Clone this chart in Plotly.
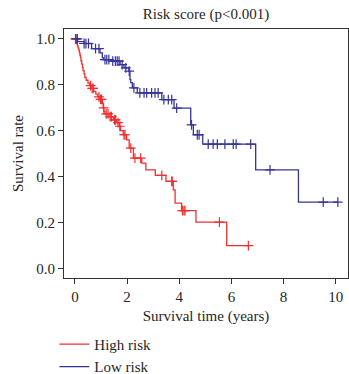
import plotly.graph_objects as go

# ---------------- data ----------------
# High risk group: event times (years) and survival after each event
high_times = [0.03, 0.06, 0.09, 0.12, 0.15, 0.17, 0.19, 0.21, 0.23, 0.26, 0.29, 0.31,
              0.35, 0.38, 0.43, 0.50, 0.56, 0.65, 0.72, 0.80, 0.87, 0.95, 1.05, 1.08,
              1.11, 1.15, 1.30, 1.47, 1.60, 1.70, 1.75, 1.85, 1.98, 2.08, 2.24, 2.56,
              2.72, 3.08, 3.49, 3.77, 3.84, 4.09, 4.64, 5.82]
high_surv = [0.99, 0.98, 0.97, 0.96, 0.95, 0.94, 0.93, 0.92, 0.905, 0.89, 0.875, 0.862,
             0.848, 0.833, 0.82, 0.808, 0.797, 0.785, 0.772, 0.76, 0.748, 0.737, 0.72, 0.70,
             0.685, 0.674, 0.662, 0.648, 0.636, 0.62, 0.601, 0.583, 0.561, 0.525, 0.481, 0.46,
             0.43, 0.406, 0.38, 0.343, 0.286, 0.253, 0.203, 0.101]
high_censor = [0.02, 0.60, 0.66, 0.70, 0.92, 0.98, 1.02, 1.10, 1.20, 1.27, 1.35, 1.40,
               1.52, 1.56, 1.65, 1.72, 1.88, 1.92, 2.14, 2.30, 2.52, 3.33, 3.71, 3.73,
               4.12, 4.18, 4.22, 5.54, 6.65]

# Low risk group
low_times = [0.10, 0.35, 0.64, 0.96, 1.05, 1.10, 1.37, 1.73, 1.88, 2.07, 2.11, 2.14,
             2.20, 2.39, 3.33, 3.80, 4.44, 4.54, 4.90, 6.93, 8.57]
low_surv = [0.988, 0.98, 0.958, 0.939, 0.917, 0.91, 0.903, 0.888, 0.874, 0.86, 0.823, 0.81,
            0.787, 0.765, 0.736, 0.699, 0.626, 0.583, 0.542, 0.43, 0.29]
low_censor = [0.04, 0.09, 0.35, 0.42, 0.52, 0.79, 0.92, 1.15, 1.22, 1.30, 1.45, 1.55,
              1.62, 1.69, 1.81, 1.95, 2.08, 2.26, 2.49, 2.65, 2.75, 2.94, 3.07, 3.19,
              3.41, 3.58, 3.71, 3.90, 4.47, 4.69, 4.76, 5.11, 5.30, 5.46, 5.75, 6.07,
              6.18, 6.74, 7.48, 9.52, 10.08]

x_ticks = [0, 2, 4, 6, 8, 10]
y_ticks = [0.0, 0.2, 0.4, 0.6, 0.8, 1.0]

RED = "#F03030"
BLUE = "#34349A"
FONT = "Liberation Serif"
FS = 15
TXT = "#262626"


def surv_at(times, surv, t):
    v = 1.0
    for ti, si in zip(times, surv):
        if ti <= t:
            v = si
    return v


fig = go.Figure()

groups = [("High risk", high_times, high_surv, high_censor, RED),
          ("Low risk", low_times, low_surv, low_censor, BLUE)]

for name, times, surv, cens, col in groups:
    end_t = max(cens[-1], times[-1])
    xs = [0.0] + times + [end_t]
    ys = [1.0] + surv + [surv[-1]]
    fig.add_trace(go.Scatter(x=xs, y=ys, mode="lines", name=name,
                             line=dict(color=col, width=1.3, shape="hv"),
                             showlegend=True))

for name, times, surv, cens, col in groups:
    fig.add_trace(go.Scatter(x=cens, y=[surv_at(times, surv, c) for c in cens],
                             mode="markers", showlegend=False, hoverinfo="skip",
                             marker=dict(symbol="cross-thin", size=7,
                                         line=dict(color=col, width=1.2))))

fig.update_layout(
    width=349, height=374,
    margin=dict(l=64, r=1, t=29, b=96, autoexpand=False),
    paper_bgcolor="white", plot_bgcolor="white",
    font=dict(family=FONT, size=FS, color=TXT),
    title=dict(text="Risk score (p<0.001)", x=0.5, xref="paper", xanchor="center",
               y=1 - 14 / 374, yref="container", yanchor="middle",
               font=dict(family=FONT, size=FS, color=TXT)),
    showlegend=True,
    legend=dict(x=-0.034, xanchor="left", y=-0.2, yanchor="top",
                font=dict(family=FONT, size=FS, color=TXT),
                bgcolor="rgba(0,0,0,0)", itemwidth=30, tracegroupgap=0),
)

fig.update_xaxes(range=[-0.42, 10.47], tickvals=x_ticks, ticktext=[str(v) for v in x_ticks],
                 ticks="outside", ticklen=5, tickcolor="#333333", tickwidth=1,
                 showgrid=False, zeroline=False, showline=True, linecolor="#333333",
                 linewidth=1.2, mirror=True, automargin=False,
                 title=dict(text="Survival time (years)", standoff=6,
                            font=dict(family=FONT, size=FS)))
fig.update_yaxes(range=[-0.04, 1.043], tickvals=y_ticks, ticktext=[f"{v:.1f}" for v in y_ticks],
                 ticks="outside", ticklen=5, tickcolor="#333333", tickwidth=1,
                 showgrid=False, zeroline=False, showline=True, linecolor="#333333",
                 linewidth=1.2, mirror=True, automargin=False,
                 title=dict(text="Survival rate", standoff=8,
                            font=dict(family=FONT, size=FS)))

fig.write_html("out.html", config={"displayModeBar": False},
               post_script="document.body.style.margin='0';document.body.style.overflow='hidden';")
